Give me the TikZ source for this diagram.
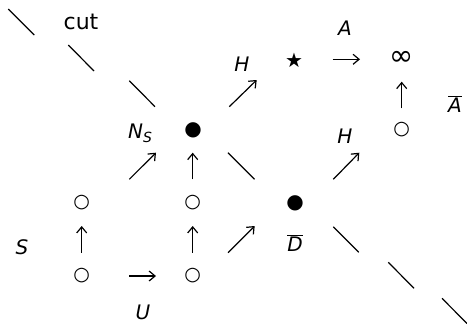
\documentclass[tikz,border=0pt]{standalone}
\usepackage{fontspec}
\setmainfont{DejaVu Sans}
\usetikzlibrary{arrows.meta}
\begin{document}
\begin{tikzpicture}[x=1pt,y=-1pt,
  lbl/.style={inner sep=0pt,font=\fontsize{20}{24}\selectfont\itshape},
  ring/.style={inner sep=0pt,font=\fontsize{19}{21}\selectfont},
  dot/.style={inner sep=0pt,font=\fontsize{20}{22}\selectfont},
  arr/.style={line width=1.2pt,-{Straight Barb[length=6pt,width=10pt]}},
  cutseg/.style={line width=1.2pt}]
\useasboundingbox (0,0) rectangle (467,324);
% cut line
\draw[cutseg] (8.3,9) -- (34.3,35);
\draw[cutseg] (68.3,45) -- (94,71);
\draw[cutseg] (129.3,80.7) -- (155,106.7);
\draw[cutseg] (228,152.7) -- (254.5,179.3);
\draw[cutseg] (333.3,226.7) -- (358.7,252.3);
\draw[cutseg] (388.3,262.3) -- (414,288.3);
\draw[cutseg] (442,298.3) -- (467.5,324);
\node[inner sep=0pt,font=\fontsize{22}{26}\selectfont] (cut) at (81,22) {cut};
% labels
\node[lbl] (H1) at (242,64) {H};
\node[lbl] (H2) at (345,136) {H};
\node[lbl] (A) at (345,28) {A};
\node[lbl] (Abar) at (455,104) {$\overline{\hbox{\itshape A}}$};
\node[lbl] (NS) at (140,133) {N\raisebox{-4pt}{\fontsize{14}{16}\selectfont S}};
\node[lbl] (S) at (22,247) {S};
\node[lbl] (U) at (143,312) {U};
\node[lbl] (Dbar) at (295,243) {$\overline{\hbox{\itshape D}}$};
% symbols
\node[inner sep=0pt,font=\fontsize{20}{22}\selectfont] (star) at (294,60) {★};
\node[inner sep=0pt,font=\fontsize{29}{31}\selectfont] (inf) at (401.7,58.3) {∞};
\node[dot] (b1) at (193,130.5) {●};
\node[dot] (b2) at (295,203) {●};
\node[ring] (r1) at (401.7,130) {○};
\node[ring] (r2) at (81.7,203) {○};
\node[ring] (r3) at (192.7,203) {○};
\node[ring] (r4) at (81.7,276) {○};
\node[ring] (r5) at (192.7,276) {○};
% arrows
\draw[arr] (332.7,59.3) -- (360,59.3);
\draw[arr] (401.7,108.3) -- (401.7,81.7);
\draw[arr] (229.3,106.7) -- (256.7,80);
\draw[arr] (333.3,179.3) -- (359.3,152.7);
\draw[arr] (129.3,179.3) -- (156,152.7);
\draw[arr] (192.7,179.3) -- (192.7,152.7);
\draw[arr] (81.7,252.7) -- (81.7,226);
\draw[arr] (192.7,252.7) -- (192.7,226);
\draw[arr] (228,252.7) -- (254.7,226);
\draw[arr] (129.3,276) -- (156,276);
\end{tikzpicture}
\end{document}
